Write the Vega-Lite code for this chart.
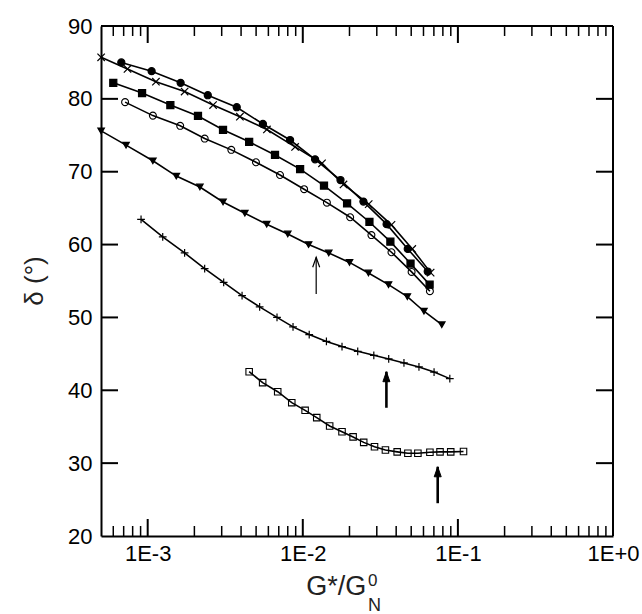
{
  "$schema": "https://vega.github.io/schema/vega-lite/v6.json",
  "width": 512,
  "height": 510,
  "autosize": {"type": "none"},
  "padding": {"left": 101, "top": 26, "right": 29, "bottom": 78},
  "background": "white",
  "resolve": {"axis": {"x": "independent", "y": "independent"}},
  "config": {
    "view": {"stroke": null},
    "axis": {"grid": false, "domainColor": "black", "domainWidth": 2, "labelFont": "Liberation Sans", "labelFontSize": 22, "labelOverlap": false, "labelFlush": false}
  },
  "datasets": {
    "pts": [
      {"series": "a", "g": 0.000676, "delta": 85.0},
      {"series": "a", "g": 0.00106, "delta": 83.8},
      {"series": "a", "g": 0.00163, "delta": 82.2},
      {"series": "a", "g": 0.00244, "delta": 80.5},
      {"series": "a", "g": 0.00375, "delta": 78.85},
      {"series": "a", "g": 0.00553, "delta": 76.55},
      {"series": "a", "g": 0.00828, "delta": 74.35},
      {"series": "a", "g": 0.0120, "delta": 71.7},
      {"series": "a", "g": 0.0175, "delta": 68.86},
      {"series": "a", "g": 0.0246, "delta": 65.9},
      {"series": "a", "g": 0.0347, "delta": 62.8},
      {"series": "a", "g": 0.0475, "delta": 59.4},
      {"series": "a", "g": 0.0639, "delta": 56.3},
      {"series": "b", "g": 0.000501, "delta": 85.7},
      {"series": "b", "g": 0.000741, "delta": 84.1},
      {"series": "b", "g": 0.00113, "delta": 82.35},
      {"series": "b", "g": 0.00173, "delta": 81.0},
      {"series": "b", "g": 0.00264, "delta": 79.15},
      {"series": "b", "g": 0.00393, "delta": 77.55},
      {"series": "b", "g": 0.00587, "delta": 75.8},
      {"series": "b", "g": 0.00892, "delta": 73.4},
      {"series": "b", "g": 0.0133, "delta": 71.15},
      {"series": "b", "g": 0.0183, "delta": 68.25},
      {"series": "b", "g": 0.0266, "delta": 65.55},
      {"series": "b", "g": 0.0373, "delta": 62.7},
      {"series": "b", "g": 0.0508, "delta": 59.4},
      {"series": "b", "g": 0.0667, "delta": 56.15},
      {"series": "c", "g": 0.000600, "delta": 82.2},
      {"series": "c", "g": 0.000920, "delta": 80.8},
      {"series": "c", "g": 0.00140, "delta": 79.15},
      {"series": "c", "g": 0.00211, "delta": 77.65},
      {"series": "c", "g": 0.00306, "delta": 75.75},
      {"series": "c", "g": 0.00451, "delta": 74.1},
      {"series": "c", "g": 0.00662, "delta": 72.3},
      {"series": "c", "g": 0.00961, "delta": 70.35},
      {"series": "c", "g": 0.0137, "delta": 68.1},
      {"series": "c", "g": 0.0193, "delta": 65.65},
      {"series": "c", "g": 0.0269, "delta": 63.1},
      {"series": "c", "g": 0.0367, "delta": 60.4},
      {"series": "c", "g": 0.0495, "delta": 57.4},
      {"series": "c", "g": 0.0657, "delta": 54.5},
      {"series": "d", "g": 0.000715, "delta": 79.55},
      {"series": "d", "g": 0.00108, "delta": 77.7},
      {"series": "d", "g": 0.00162, "delta": 76.3},
      {"series": "d", "g": 0.00233, "delta": 74.55},
      {"series": "d", "g": 0.00346, "delta": 73.0},
      {"series": "d", "g": 0.00499, "delta": 71.3},
      {"series": "d", "g": 0.00713, "delta": 69.55},
      {"series": "d", "g": 0.0102, "delta": 67.6},
      {"series": "d", "g": 0.0143, "delta": 65.75},
      {"series": "d", "g": 0.0202, "delta": 63.75},
      {"series": "d", "g": 0.0277, "delta": 61.3},
      {"series": "d", "g": 0.0373, "delta": 58.95},
      {"series": "d", "g": 0.0503, "delta": 56.25},
      {"series": "d", "g": 0.0660, "delta": 53.6},
      {"series": "e", "g": 0.000501, "delta": 75.6},
      {"series": "e", "g": 0.000725, "delta": 73.65},
      {"series": "e", "g": 0.00108, "delta": 71.5},
      {"series": "e", "g": 0.00153, "delta": 69.4},
      {"series": "e", "g": 0.00217, "delta": 67.9},
      {"series": "e", "g": 0.00306, "delta": 65.85},
      {"series": "e", "g": 0.00423, "delta": 64.3},
      {"series": "e", "g": 0.00585, "delta": 62.8},
      {"series": "e", "g": 0.00800, "delta": 61.45},
      {"series": "e", "g": 0.0109, "delta": 60.0},
      {"series": "e", "g": 0.0147, "delta": 58.85},
      {"series": "e", "g": 0.0200, "delta": 57.55},
      {"series": "e", "g": 0.0265, "delta": 56.1},
      {"series": "e", "g": 0.0357, "delta": 54.5},
      {"series": "e", "g": 0.0472, "delta": 52.85},
      {"series": "e", "g": 0.0604, "delta": 50.85},
      {"series": "e", "g": 0.0787, "delta": 49.0},
      {"series": "f", "g": 0.000906, "delta": 63.45},
      {"series": "f", "g": 0.00125, "delta": 61.05},
      {"series": "f", "g": 0.00173, "delta": 58.85},
      {"series": "f", "g": 0.00233, "delta": 56.7},
      {"series": "f", "g": 0.00309, "delta": 54.8},
      {"series": "f", "g": 0.00406, "delta": 53.0},
      {"series": "f", "g": 0.00527, "delta": 51.45},
      {"series": "f", "g": 0.00682, "delta": 50.0},
      {"series": "f", "g": 0.00865, "delta": 48.7},
      {"series": "f", "g": 0.0110, "delta": 47.65},
      {"series": "f", "g": 0.0142, "delta": 46.7},
      {"series": "f", "g": 0.0179, "delta": 46.0},
      {"series": "f", "g": 0.0226, "delta": 45.35},
      {"series": "f", "g": 0.0287, "delta": 44.8},
      {"series": "f", "g": 0.0358, "delta": 44.3},
      {"series": "f", "g": 0.0449, "delta": 43.75},
      {"series": "f", "g": 0.0561, "delta": 43.2},
      {"series": "f", "g": 0.0702, "delta": 42.5},
      {"series": "f", "g": 0.0887, "delta": 41.6},
      {"series": "g", "g": 0.00451, "delta": 42.55},
      {"series": "g", "g": 0.00551, "delta": 41.05},
      {"series": "g", "g": 0.00689, "delta": 39.8},
      {"series": "g", "g": 0.00849, "delta": 38.3},
      {"series": "g", "g": 0.01035, "delta": 37.25},
      {"series": "g", "g": 0.0123, "delta": 36.25},
      {"series": "g", "g": 0.0149, "delta": 35.1},
      {"series": "g", "g": 0.0179, "delta": 34.3},
      {"series": "g", "g": 0.0211, "delta": 33.6},
      {"series": "g", "g": 0.0247, "delta": 32.85},
      {"series": "g", "g": 0.0290, "delta": 32.25},
      {"series": "g", "g": 0.0341, "delta": 31.8},
      {"series": "g", "g": 0.0406, "delta": 31.55},
      {"series": "g", "g": 0.0476, "delta": 31.35},
      {"series": "g", "g": 0.0552, "delta": 31.35},
      {"series": "g", "g": 0.0660, "delta": 31.5},
      {"series": "g", "g": 0.0767, "delta": 31.55},
      {"series": "g", "g": 0.0899, "delta": 31.55},
      {"series": "g", "g": 0.1087, "delta": 31.6}
    ],
    "arrows": [
      {"kind": "thin", "g": 0.0122, "from": 53.2, "to": 58.25},
      {"kind": "thick", "g": 0.0346, "from": 37.6, "to": 42.55},
      {"kind": "thick", "g": 0.0741, "from": 24.5, "to": 29.5}
    ],
    "xticks": [
      {"v": 0.0006, "k": "minor"}, {"v": 0.0007, "k": "minor"}, {"v": 0.0008, "k": "minor"}, {"v": 0.0009, "k": "minor"},
      {"v": 0.001, "k": "major"},
      {"v": 0.002, "k": "minor"}, {"v": 0.003, "k": "minor"}, {"v": 0.004, "k": "minor"}, {"v": 0.005, "k": "minor"},
      {"v": 0.006, "k": "minor"}, {"v": 0.007, "k": "minor"}, {"v": 0.008, "k": "minor"}, {"v": 0.009, "k": "minor"},
      {"v": 0.01, "k": "major"},
      {"v": 0.02, "k": "minor"}, {"v": 0.03, "k": "minor"}, {"v": 0.04, "k": "minor"}, {"v": 0.05, "k": "minor"},
      {"v": 0.06, "k": "minor"}, {"v": 0.07, "k": "minor"}, {"v": 0.08, "k": "minor"}, {"v": 0.09, "k": "minor"},
      {"v": 0.1, "k": "major"},
      {"v": 0.2, "k": "minor"}, {"v": 0.3, "k": "minor"}, {"v": 0.4, "k": "minor"}, {"v": 0.5, "k": "minor"},
      {"v": 0.6, "k": "minor"}, {"v": 0.7, "k": "minor"}, {"v": 0.8, "k": "minor"}, {"v": 0.9, "k": "minor"}
    ],
    "yticks": [
      {"v": 30}, {"v": 40}, {"v": 50}, {"v": 60}, {"v": 70}, {"v": 80}
    ],
    "frame": [
      {"edge": "frame"}
    ]
  },
  "layer": [
    {
      "data": {"name": "arrows"},
      "transform": [{"filter": "datum.kind == 'thin'"}],
      "mark": {"type": "rule", "color": "black", "strokeWidth": 1.2},
      "encoding": {
        "x": {
          "field": "g", "type": "quantitative",
          "scale": {"type": "log", "domain": [0.0005, 1], "nice": false},
          "axis": {
            "orient": "bottom", "title": null,
            "values": [0.001, 0.01, 0.1, 1],
            "labelExpr": "datum.value == 0.001 ? '1E-3' : datum.value == 0.01 ? '1E-2' : datum.value == 0.1 ? '1E-1' : '1E+0'",
            "ticks": false, "labelPadding": 7
          }
        },
        "y": {
          "field": "from", "type": "quantitative",
          "scale": {"domain": [20, 90], "nice": false, "zero": false},
          "axis": {"orient": "left", "title": null, "values": [20, 30, 40, 50, 60, 70, 80, 90], "ticks": false, "labelPadding": 9}
        },
        "y2": {"field": "to"}
      }
    },
    {
      "data": {"name": "arrows"},
      "transform": [{"filter": "datum.kind == 'thick'"}],
      "mark": {"type": "rule", "color": "black", "strokeWidth": 2.6},
      "encoding": {
        "x": {"field": "g", "type": "quantitative", "axis": null},
        "y": {"field": "from", "type": "quantitative", "axis": null},
        "y2": {"field": "to"}
      }
    },
    {
      "data": {"name": "arrows"},
      "transform": [{"filter": "datum.kind == 'thin'"}],
      "mark": {"type": "point", "shape": "M-0.35,1L0,0L0.35,1", "size": 400, "stroke": "black", "strokeWidth": 1.2, "fill": "transparent", "opacity": 1},
      "encoding": {
        "x": {"field": "g", "type": "quantitative", "axis": null},
        "y": {"field": "to", "type": "quantitative", "axis": null}
      }
    },
    {
      "data": {"name": "arrows"},
      "transform": [{"filter": "datum.kind == 'thick'"}],
      "mark": {"type": "point", "shape": "M0,0L-0.35,1L0.35,1Z", "size": 400, "stroke": "black", "strokeWidth": 1, "fill": "black", "opacity": 1},
      "encoding": {
        "x": {"field": "g", "type": "quantitative", "axis": null},
        "y": {"field": "to", "type": "quantitative", "axis": null}
      }
    },
    {
      "data": {"name": "xticks"},
      "transform": [{"filter": "datum.k == 'major'"}],
      "mark": {"type": "rule", "color": "black", "strokeWidth": 2},
      "encoding": {
        "x": {"field": "v", "type": "quantitative", "axis": null},
        "y": {"datum": 20, "type": "quantitative", "axis": null},
        "y2": {"datum": 22.333}
      }
    },
    {
      "data": {"name": "xticks"},
      "transform": [{"filter": "datum.k == 'major'"}],
      "mark": {"type": "rule", "color": "black", "strokeWidth": 2},
      "encoding": {
        "x": {"field": "v", "type": "quantitative", "axis": null},
        "y": {"datum": 90, "type": "quantitative", "axis": null},
        "y2": {"datum": 87.667}
      }
    },
    {
      "data": {"name": "xticks"},
      "transform": [{"filter": "datum.k == 'minor'"}],
      "mark": {"type": "rule", "color": "black", "strokeWidth": 1.5},
      "encoding": {
        "x": {"field": "v", "type": "quantitative", "axis": null},
        "y": {"datum": 20, "type": "quantitative", "axis": null},
        "y2": {"datum": 21.373}
      }
    },
    {
      "data": {"name": "xticks"},
      "transform": [{"filter": "datum.k == 'minor'"}],
      "mark": {"type": "rule", "color": "black", "strokeWidth": 1.5},
      "encoding": {
        "x": {"field": "v", "type": "quantitative", "axis": null},
        "y": {"datum": 90, "type": "quantitative", "axis": null},
        "y2": {"datum": 88.627}
      }
    },
    {
      "data": {"name": "yticks"},
      "mark": {"type": "rule", "color": "black", "strokeWidth": 2},
      "encoding": {
        "y": {"field": "v", "type": "quantitative", "axis": null},
        "x": {"datum": 0.0005, "type": "quantitative", "axis": null},
        "x2": {"datum": 0.0006436}
      }
    },
    {
      "data": {"name": "yticks"},
      "mark": {"type": "rule", "color": "black", "strokeWidth": 2},
      "encoding": {
        "y": {"field": "v", "type": "quantitative", "axis": null},
        "x": {"datum": 1, "type": "quantitative", "axis": null},
        "x2": {"datum": 0.7769}
      }
    },
    {
      "data": {"name": "frame"},
      "mark": {"type": "rule", "color": "black", "strokeWidth": 2},
      "encoding": {
        "x": {"datum": 0.0005, "type": "quantitative", "axis": null},
        "x2": {"datum": 1},
        "y": {"datum": 90, "type": "quantitative", "axis": null}
      }
    },
    {
      "data": {"name": "frame"},
      "mark": {"type": "rule", "color": "black", "strokeWidth": 2},
      "encoding": {
        "x": {"datum": 1, "type": "quantitative", "axis": null},
        "y": {"datum": 20, "type": "quantitative", "axis": null},
        "y2": {"datum": 90}
      }
    },
    {
      "data": {"name": "pts"},
      "mark": {"type": "line", "color": "black", "strokeWidth": 1.6},
      "encoding": {
        "x": {"field": "g", "type": "quantitative", "axis": null},
        "y": {"field": "delta", "type": "quantitative", "axis": null},
        "detail": {"field": "series", "type": "nominal"}
      }
    },
    {
      "data": {"name": "pts"},
      "transform": [{"filter": "datum.series == 'a'"}],
      "mark": {"type": "point", "shape": "circle", "size": 50, "stroke": "black", "strokeWidth": 1.2, "fill": "black", "opacity": 1},
      "encoding": {
        "x": {"field": "g", "type": "quantitative", "axis": null},
        "y": {"field": "delta", "type": "quantitative", "axis": null}
      }
    },
    {
      "data": {"name": "pts"},
      "transform": [{"filter": "datum.series == 'b'"}],
      "mark": {"type": "point", "shape": "M-1,-1L1,1M-1,1L1,-1", "size": 55, "stroke": "black", "strokeWidth": 1.2, "fill": "transparent", "opacity": 1},
      "encoding": {
        "x": {"field": "g", "type": "quantitative", "axis": null},
        "y": {"field": "delta", "type": "quantitative", "axis": null}
      }
    },
    {
      "data": {"name": "pts"},
      "transform": [{"filter": "datum.series == 'c'"}],
      "mark": {"type": "point", "shape": "square", "size": 50, "stroke": "black", "strokeWidth": 1.2, "fill": "black", "opacity": 1},
      "encoding": {
        "x": {"field": "g", "type": "quantitative", "axis": null},
        "y": {"field": "delta", "type": "quantitative", "axis": null}
      }
    },
    {
      "data": {"name": "pts"},
      "transform": [{"filter": "datum.series == 'd'"}],
      "mark": {"type": "point", "shape": "circle", "size": 48, "stroke": "black", "strokeWidth": 1.1, "fill": "transparent", "opacity": 1},
      "encoding": {
        "x": {"field": "g", "type": "quantitative", "axis": null},
        "y": {"field": "delta", "type": "quantitative", "axis": null}
      }
    },
    {
      "data": {"name": "pts"},
      "transform": [{"filter": "datum.series == 'e'"}],
      "mark": {"type": "point", "shape": "triangle-down", "size": 42, "stroke": "black", "strokeWidth": 1.2, "fill": "black", "opacity": 1},
      "encoding": {
        "x": {"field": "g", "type": "quantitative", "axis": null},
        "y": {"field": "delta", "type": "quantitative", "axis": null}
      }
    },
    {
      "data": {"name": "pts"},
      "transform": [{"filter": "datum.series == 'f'"}],
      "mark": {"type": "point", "shape": "M0,-1L0,1M-1,0L1,0", "size": 60, "stroke": "black", "strokeWidth": 1.2, "fill": "transparent", "opacity": 1},
      "encoding": {
        "x": {"field": "g", "type": "quantitative", "axis": null},
        "y": {"field": "delta", "type": "quantitative", "axis": null}
      }
    },
    {
      "data": {"name": "pts"},
      "transform": [{"filter": "datum.series == 'g'"}],
      "mark": {"type": "point", "shape": "square", "size": 42, "stroke": "black", "strokeWidth": 1.1, "fill": "transparent", "opacity": 1},
      "encoding": {
        "x": {"field": "g", "type": "quantitative", "axis": null},
        "y": {"field": "delta", "type": "quantitative", "axis": null}
      }
    },
    {
      "data": {"values": [{"t": "δ (°)"}]},
      "mark": {"type": "text", "align": "center", "baseline": "middle", "angle": 270, "font": "Liberation Sans", "fontSize": 26, "color": "#222222"},
      "encoding": {
        "text": {"field": "t"},
        "x": {"datum": 0.000188, "type": "quantitative", "axis": null},
        "y": {"datum": 55, "type": "quantitative", "axis": null}
      }
    },
    {
      "data": {"values": [{"t": "G*/G"}]},
      "mark": {"type": "text", "align": "right", "baseline": "alphabetic", "font": "Liberation Sans", "fontSize": 27, "color": "#222222"},
      "encoding": {
        "text": {"field": "t"},
        "x": {"datum": 0.0257, "type": "quantitative", "axis": null},
        "y": {"datum": 11.9, "type": "quantitative", "axis": null}
      }
    },
    {
      "data": {"values": [{"t": "0"}]},
      "mark": {"type": "text", "align": "left", "baseline": "alphabetic", "font": "Liberation Sans", "fontSize": 17, "color": "#222222"},
      "encoding": {
        "text": {"field": "t"},
        "x": {"datum": 0.02633, "type": "quantitative", "axis": null},
        "y": {"datum": 13.14, "type": "quantitative", "axis": null}
      }
    },
    {
      "data": {"values": [{"t": "N"}]},
      "mark": {"type": "text", "align": "left", "baseline": "alphabetic", "font": "Liberation Sans", "fontSize": 18, "color": "#222222"},
      "encoding": {
        "text": {"field": "t"},
        "x": {"datum": 0.02633, "type": "quantitative", "axis": null},
        "y": {"datum": 9.71, "type": "quantitative", "axis": null}
      }
    }
  ]
}
